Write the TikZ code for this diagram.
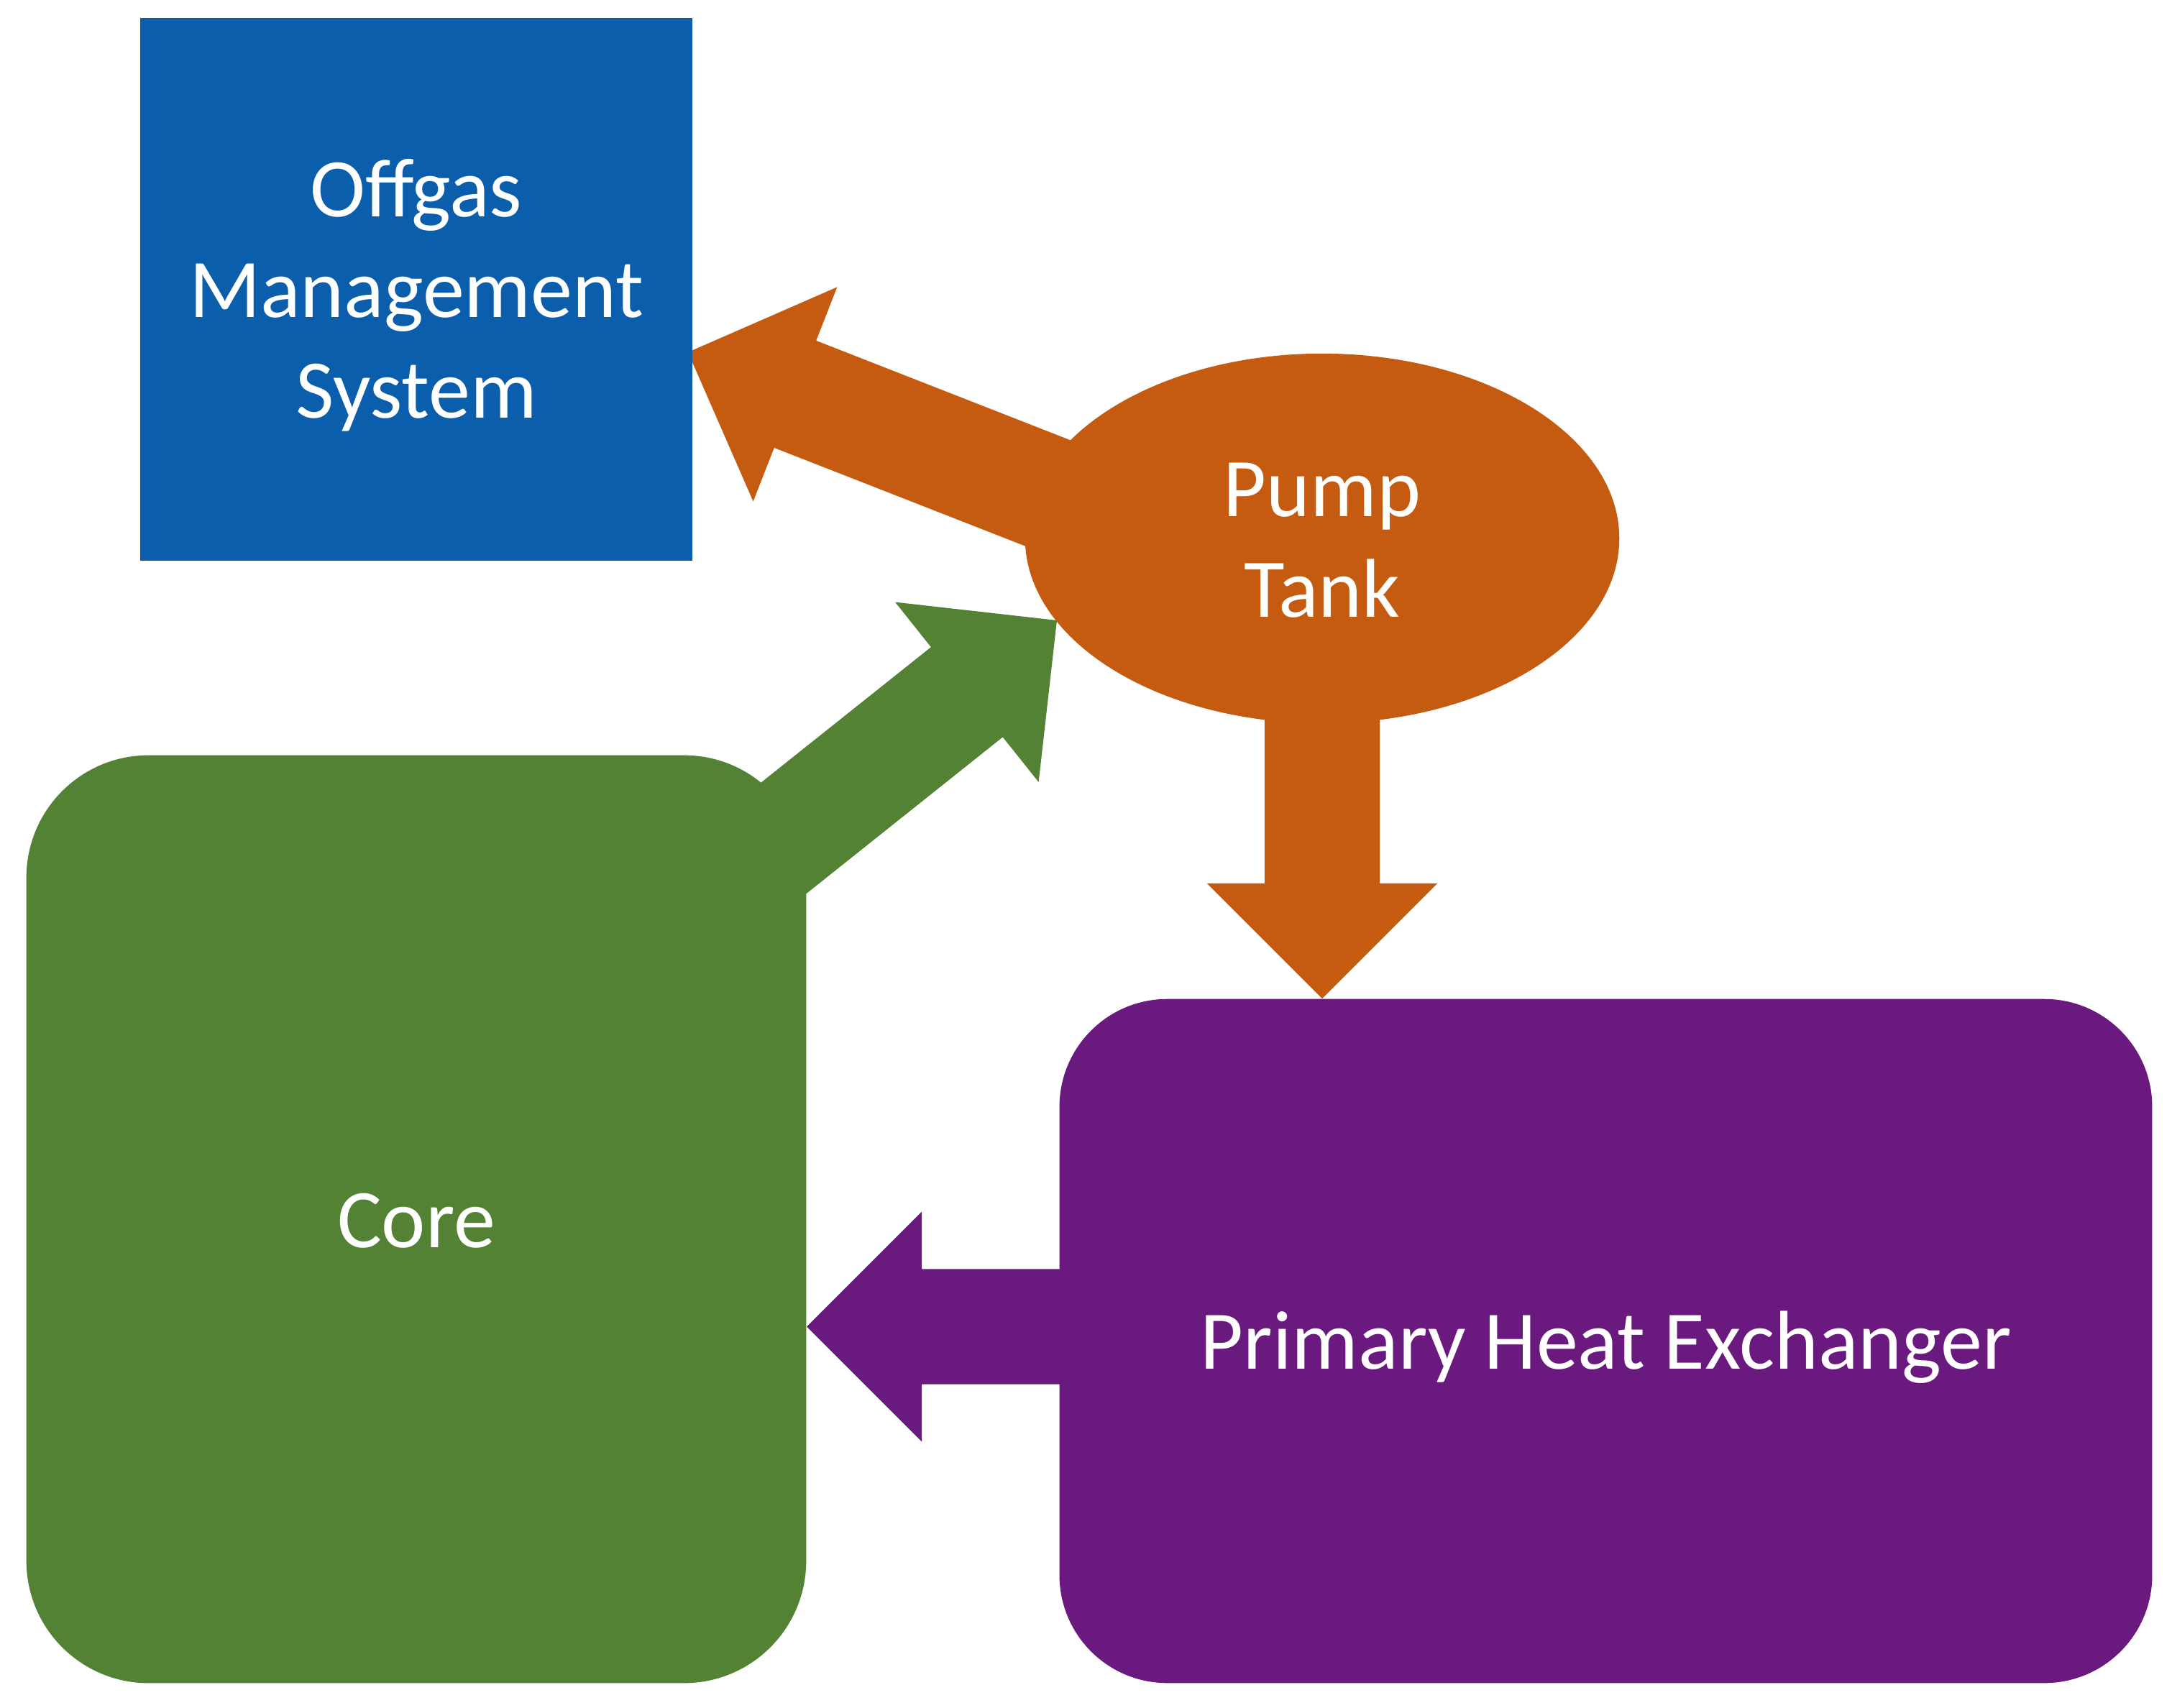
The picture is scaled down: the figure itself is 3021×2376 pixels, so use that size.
\documentclass[tikz,border=0pt]{standalone}
\usepackage{fontspec}
\setmainfont{Carlito}
\usetikzlibrary{shapes.geometric,calc,backgrounds}
\definecolor{cblue}{HTML}{0A5EAB}
\definecolor{corange}{HTML}{C55A11}
\definecolor{cgreen}{HTML}{548235}
\definecolor{cpurple}{HTML}{6A1A7E}
\newcommand\ls{\rule[-8pt]{0pt}{38.4pt}}
% block arrow: name, colour, start, tip
\newcommand\blockarrow[4]{%
  \coordinate (#1-h) at ($(#4)!1.6cm!(#3)$);
  \fill[#2] ($(#3)!0.8cm!90:(#4)$) -- ($(#1-h)!0.8cm!90:(#4)$)
    -- ($(#1-h)!1.6cm!90:(#4)$) -- (#4)
    -- ($(#1-h)!1.6cm!-90:(#4)$) -- ($(#1-h)!0.8cm!-90:(#4)$)
    -- ($(#3)!0.8cm!-90:(#4)$) -- cycle;
}
\begin{document}
\begin{tikzpicture}[x=0.01cm,y=-0.01cm,
  box/.style={inner sep=0pt, text=white, align=center,
    font={\fontsize{33}{39.8}\selectfont}}]
\useasboundingbox (0,0) rectangle (3021,2376);
\node[box, rectangle, fill=cblue, minimum width=7.68cm, minimum height=7.55cm]
  (offgas) at (579,402.5) {\ls Offgas\\\ls Management\\\ls System};
\node[box, ellipse, fill=corange, minimum width=8.26cm, minimum height=5.14cm]
  (pump) at (1839,749) {\ls Pump\\\ls Tank};
\node[box, rectangle, rounded corners=1.7cm, fill=cgreen, minimum width=10.84cm, minimum height=12.9cm]
  (core) at (579,1696) {\ls Core};
\node[box, rectangle, rounded corners=1.5cm, fill=cpurple, minimum width=15.19cm, minimum height=9.51cm]
  (phx) at (2233.5,1865.5) {\ls Primary Heat Exchanger};
\coordinate (a1s) at ($(pump.center)+(-277,-22)$);
\coordinate (a1t) at ($(offgas.east)+(-7,87.5)$);
\coordinate (a2s) at ($(core.center)+(344,-397)$);
\coordinate (a2t) at ($(pump.center)+(-369,114)$);
\coordinate (a3s) at (pump.center);
\coordinate (a3t) at (pump.center |- phx.north);
\coordinate (a4s) at ($(phx.west)+(150,-20)$);
\coordinate (a4t) at ($(core.east |- phx.west)+(0,-20)$);
\begin{scope}[on background layer]
  \blockarrow{a1}{corange}{a1s}{a1t}
  \blockarrow{a2}{cgreen}{a2s}{a2t}
  \blockarrow{a3}{corange}{a3s}{a3t}
  \blockarrow{a4}{cpurple}{a4s}{a4t}
\end{scope}
\end{tikzpicture}
\end{document}
